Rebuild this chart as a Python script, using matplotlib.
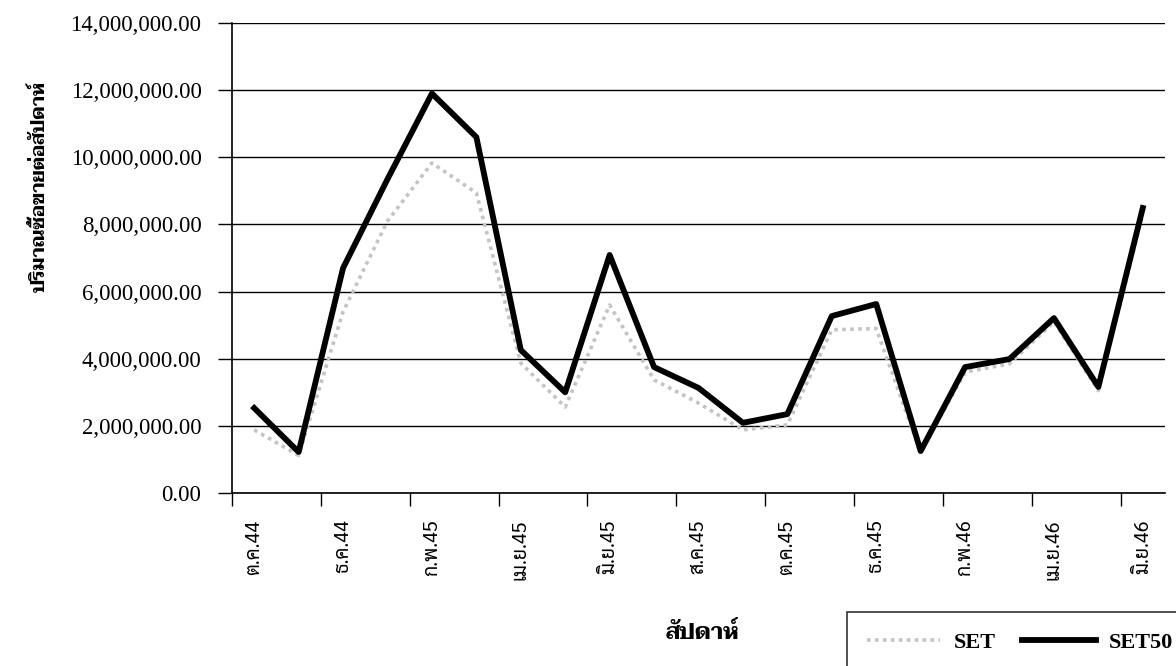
import matplotlib
matplotlib.use('Agg')
import numpy as np
import matplotlib.pyplot as plt
from matplotlib.ticker import FuncFormatter

# ปริมาณซื้อขายเฉลี่ยต่อสัปดาห์ รายเดือน ต.ค.44 - มิ.ย.46 (หน่วย: ล้าน)
months = ['ต.ค.44', 'พ.ย.44', 'ธ.ค.44', 'ม.ค.45', 'ก.พ.45', 'มี.ค.45', 'เม.ย.45',
          'พ.ค.45', 'มิ.ย.45', 'ก.ค.45', 'ส.ค.45', 'ก.ย.45', 'ต.ค.45', 'พ.ย.45',
          'ธ.ค.45', 'ม.ค.46', 'ก.พ.46', 'มี.ค.46', 'เม.ย.46', 'พ.ค.46', 'มิ.ย.46']
set_vol = [1.88, 1.12, 5.40, 8.10, 9.83, 8.94, 3.87, 2.56, 5.60, 3.37, 2.68,
           1.88, 2.03, 4.86, 4.90, 1.20, 3.60, 3.85, 5.10, 3.05, 8.30]
set50_vol = [2.53, 1.22, 6.70, 9.35, 11.90, 10.60, 4.26, 3.00, 7.09, 3.75, 3.13,
             2.09, 2.35, 5.27, 5.63, 1.25, 3.75, 3.99, 5.21, 3.16, 8.49]

thai_font = ['Sarabun', 'Noto Sans Thai', 'DejaVu Sans']
thai_bold = ['Taviraj', 'Noto Serif Thai', 'Sarabun', 'DejaVu Sans']

x = np.arange(len(months))
set_v = np.array(set_vol) * 1e6
set50_v = np.array(set50_vol) * 1e6

fig = plt.figure(figsize=(11.76, 6.66), dpi=100)
ax = fig.add_axes([232 / 1176, 1 - 493 / 666, (1165 - 232) / 1176, (493 - 23) / 666])

ax.plot(x, set_v, color='#c4c4c4', lw=2.6, linestyle=(0, (1, 1.2)), label='SET', zorder=3)
ax.plot(x, set50_v, color='black', lw=4.2, label='SET50', zorder=4)

ax.set_xlim(-0.5, len(months) - 0.5)
ax.set_ylim(0, 14e6)
ax.set_yticks(np.arange(0, 14e6 + 1, 2e6))
ax.yaxis.set_major_formatter(FuncFormatter(lambda v, p: f'{v:,.2f}'))
ax.grid(axis='y', color='black', lw=1)
ax.set_axisbelow(True)

# เส้นแบ่งทุก 2 เดือน, ป้ายกำกับที่กึ่งกลางเดือน
ax.set_xticks(np.arange(-0.5, len(months) - 1, 2))
ax.set_xticklabels([])
ax.set_xticks(x[::2], minor=True)
ax.set_xticklabels(months[::2], minor=True, rotation=90, fontsize=14, family=thai_font)
ax.tick_params(axis='x', which='major', length=9, width=1, direction='out')
ax.tick_params(axis='x', which='minor', length=0, pad=19)
ax.tick_params(axis='y', length=10, width=1, direction='out', pad=12)
for lab in ax.get_yticklabels():
    lab.set_family('Liberation Serif')
    lab.set_fontsize(16.5)

for s in ['top', 'right']:
    ax.spines[s].set_visible(False)
for s in ['left', 'bottom']:
    ax.spines[s].set_linewidth(1.2)

fig.text(40 / 1176, 1 - 187 / 666, 'ปริมาณซื้อขายต่อสัปดาห์', rotation=90,
         ha='center', va='center', fontsize=13.5, fontweight='bold', family=thai_bold)
fig.text(702 / 1176, 1 - 633 / 666, 'สัปดาห์', ha='center', va='center',
         fontsize=16, fontweight='bold', family=thai_bold)

leg = fig.legend(loc='upper left', bbox_to_anchor=(847 / 1176, 1 - 612 / 666),
                 borderaxespad=0, ncol=2, frameon=True, fancybox=False,
                 handlelength=3.3, columnspacing=1.2, handletextpad=0.6, borderpad=0.9,
                 prop={'family': 'Liberation Serif', 'weight': 'bold', 'size': 16})
leg.get_frame().set_edgecolor('black')
leg.get_frame().set_linewidth(1.2)

fig.savefig('out.png', dpi=100)
